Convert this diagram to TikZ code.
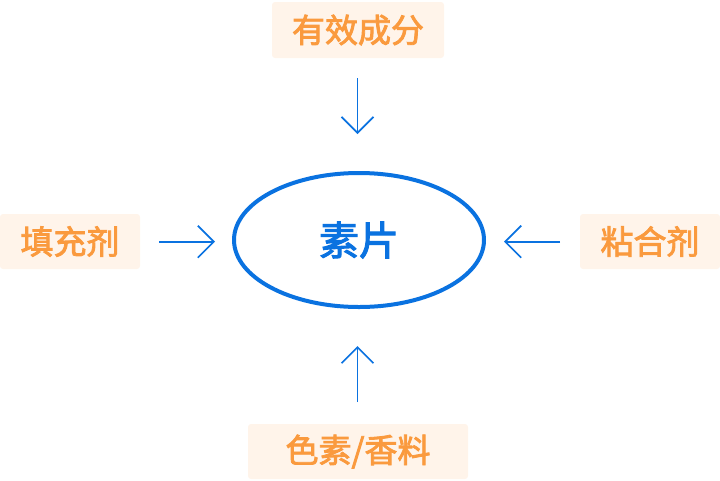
\documentclass[tikz,border=0pt]{standalone}
\usepackage{fontspec}
\newfontfamily\cjk[FakeBold=2.5]{Noto Sans CJK SC}
\usetikzlibrary{arrows.meta,shapes.geometric}
\definecolor{tagorange}{HTML}{FA9A3E}
\definecolor{tagfill}{HTML}{FFF4EA}
\definecolor{mainblue}{HTML}{0A72E0}
\tikzset{
  tagbox/.style={fill=tagfill, rounded corners=3pt, text=tagorange, inner sep=0pt, font=\cjk\fontsize{33}{38}\selectfont},
  flowarrow/.style={draw=mainblue, line width=1.7pt, -{Straight Barb[length=16pt,width=32pt,line width=1.7pt]}},
  core/.style={ellipse, draw=mainblue, line width=4pt, minimum width=250pt, minimum height=134pt, text=mainblue, font=\cjk\fontsize{40}{46}\selectfont}
}
\begin{document}
\begin{tikzpicture}[x=1pt,y=-1pt]
\useasboundingbox (0,0) rectangle (720,480);
\node[core] (c) at (359,240) {素片};
\node[tagbox, minimum width=172pt, minimum height=56pt] (t) at (358,30) {有效成分};
\node[tagbox, minimum width=140pt, minimum height=55pt] (l) at (70,241.5) {填充剂};
\node[tagbox, minimum width=140pt, minimum height=55pt] (r) at (650,241.5) {粘合剂};
\node[tagbox, minimum width=220pt, minimum height=55pt] (b) at (358,451.5) {色素/香料};
\coordinate (ts) at (357.5,78);
\coordinate (te) at (357.5,134);
\coordinate (ls) at (159,241.7);
\coordinate (le) at (215,241.7);
\coordinate (rs) at (560,241.7);
\coordinate (re) at (504,241.7);
\coordinate (bs) at (357.5,402);
\coordinate (be) at (357.5,346);
\draw[flowarrow] (ts) -- (te);
\draw[flowarrow] (ls) -- (le);
\draw[flowarrow] (rs) -- (re);
\draw[flowarrow] (bs) -- (be);
\end{tikzpicture}
\end{document}
